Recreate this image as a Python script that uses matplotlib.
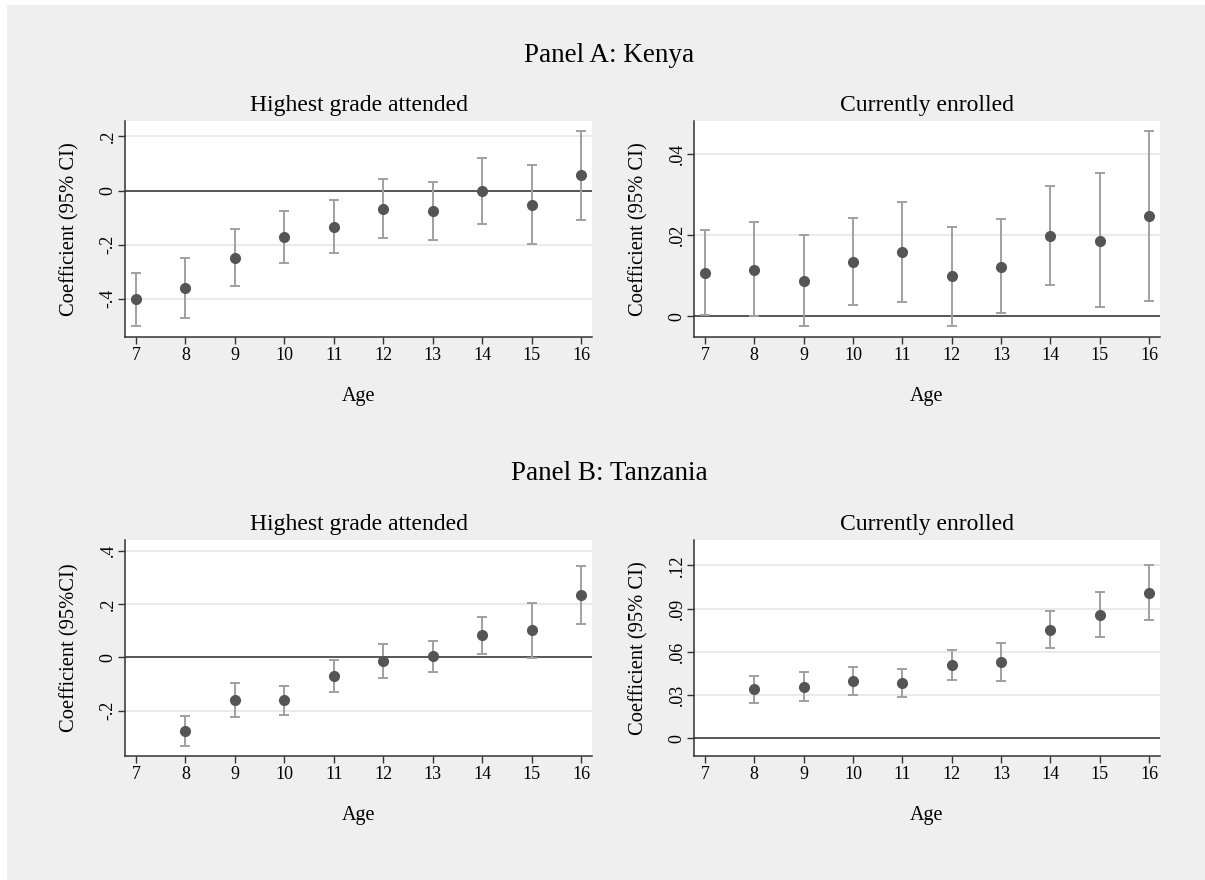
import matplotlib
matplotlib.use('Agg')
import matplotlib.pyplot as plt
from matplotlib.patches import Rectangle

# ---- data ----
ages_ke = [7, 8, 9, 10, 11, 12, 13, 14, 15, 16]
ages_tz = [8, 9, 10, 11, 12, 13, 14, 15, 16]

# Panel A: Kenya, highest grade attended
ke_grade = [-0.402, -0.359, -0.248, -0.172, -0.135, -0.067, -0.077, -0.001, -0.053, 0.056]
ke_grade_lo = [-0.501, -0.472, -0.353, -0.269, -0.232, -0.175, -0.184, -0.125, -0.199, -0.107]
ke_grade_hi = [-0.305, -0.248, -0.143, -0.075, -0.035, 0.043, 0.032, 0.121, 0.096, 0.220]

# Panel A: Kenya, currently enrolled
ke_enr = [0.0107, 0.0114, 0.0087, 0.0134, 0.0158, 0.0098, 0.0122, 0.0197, 0.0186, 0.0246]
ke_enr_lo = [0.0004, 0.0000, -0.0025, 0.0027, 0.0036, -0.0024, 0.0007, 0.0076, 0.0022, 0.0038]
ke_enr_hi = [0.0211, 0.0231, 0.0200, 0.0242, 0.0280, 0.0219, 0.0238, 0.0320, 0.0351, 0.0455]

# Panel B: Tanzania, highest grade attended
tz_grade = [-0.275, -0.160, -0.161, -0.069, -0.013, 0.005, 0.084, 0.101, 0.234]
tz_grade_lo = [-0.331, -0.223, -0.216, -0.130, -0.076, -0.056, 0.014, -0.001, 0.125]
tz_grade_hi = [-0.220, -0.098, -0.106, -0.009, 0.051, 0.063, 0.153, 0.203, 0.343]

# Panel B: Tanzania, currently enrolled
tz_enr = [0.0339, 0.0358, 0.0399, 0.0381, 0.0508, 0.0528, 0.0754, 0.0858, 0.1010]
tz_enr_lo = [0.0242, 0.0258, 0.0302, 0.0284, 0.0402, 0.0397, 0.0628, 0.0706, 0.0819]
tz_enr_hi = [0.0434, 0.0459, 0.0498, 0.0480, 0.0612, 0.0658, 0.0883, 0.1012, 0.1202]

xticks = [7, 8, 9, 10, 11, 12, 13, 14, 15, 16]

W, H = 1205, 880
BG = '#efefef'
plt.rcParams['font.family'] = ['Liberation Serif', 'DejaVu Serif']

fig = plt.figure(figsize=(W / 100, H / 100), dpi=100)
fig.patch.set_facecolor('white')
fig.patches.append(Rectangle((7 / W, -0.01), 1.1, 1.01 - 5 / H, transform=fig.transFigure,
                             facecolor=BG, edgecolor='none', zorder=-10))


def make_panel(px, py, ages, est, lo, hi, yticks, ylabels, ylim, title, ylab):
    # px, py = pixel box (left/right, top/bottom)
    l, t, r, b = px[0], py[0], px[1], py[1]
    ax = fig.add_axes([l / W, 1 - b / H, (r - l) / W, (b - t) / H])
    ax.set_facecolor('white')
    yerr = [[e - a for e, a in zip(est, lo)], [c - e for e, c in zip(est, hi)]]
    ax.axhline(0, color='#3a3a3a', lw=1.2, zorder=1.5)
    ax.errorbar(ages, est, yerr=yerr, fmt='o', color='#555555', ms=7,
                ecolor='#a0a0a0', elinewidth=1.4, capsize=3.5, capthick=1.4, zorder=3)
    ax.set_xlim(6.78, 16.22)
    ax.set_ylim(*ylim)
    ax.set_xticks(xticks)
    ax.set_yticks(yticks)
    ax.set_yticklabels(ylabels, rotation=90, va='center')
    for v in yticks:
        if v != 0:
            ax.axhline(v, color='#e6e6e6', lw=1.2, zorder=0.5)
    for s in ['top', 'right']:
        ax.spines[s].set_visible(False)
    for s in ['left', 'bottom']:
        ax.spines[s].set_color('#333333')
        ax.spines[s].set_linewidth(1.1)
    ax.tick_params(axis='both', labelsize=13, length=5, width=1, color='#333333')
    ax.tick_params(axis='x', pad=2)
    ax.tick_params(axis='y', pad=1)
    ax.set_title(title, fontsize=17, pad=7)
    ax.set_xlabel('Age', fontsize=14.5)
    ax.xaxis.set_label_coords(0.5, -(59) / (b - t))
    ax.xaxis.label.set_va('center')
    ax.set_ylabel(ylab, fontsize=14.8)
    ax.yaxis.set_label_coords(-55 / (r - l), 0.5)
    ax.yaxis.label.set_va('center')
    return ax


LEFT = (125, 592)
RIGHT = (694, 1160)
TOP = (121, 337)
BOT = (540, 756)

make_panel(LEFT, TOP, ages_ke, ke_grade, ke_grade_lo, ke_grade_hi,
           [-0.4, -0.2, 0, 0.2], ['-.4', '-.2', '0', '.2'], (-0.541, 0.257),
           'Highest grade attended', 'Coefficient (95% CI)')
make_panel(RIGHT, TOP, ages_ke, ke_enr, ke_enr_lo, ke_enr_hi,
           [0, 0.02, 0.04], ['0', '.02', '.04'], (-0.0051, 0.048),
           'Currently enrolled', 'Coefficient (95% CI)')
make_panel(LEFT, BOT, ages_tz, tz_grade, tz_grade_lo, tz_grade_hi,
           [-0.2, 0, 0.2, 0.4], ['-.2', '0', '.2', '.4'], (-0.37, 0.44),
           'Highest grade attended', 'Coefficient (95%CI)')
make_panel(RIGHT, BOT, ages_tz, tz_enr, tz_enr_lo, tz_enr_hi,
           [0, 0.03, 0.06, 0.09, 0.12], ['0', '.03', '.06', '.09', '.12'], (-0.0122, 0.1375),
           'Currently enrolled', 'Coefficient (95% CI)')

fig.text(609 / W, 1 - 62 / H, 'Panel A: Kenya', fontsize=19.5, ha='center', va='baseline')
fig.text(609 / W, 1 - 480 / H, 'Panel B: Tanzania', fontsize=19.5, ha='center', va='baseline')

fig.savefig('out.png', dpi=100)
